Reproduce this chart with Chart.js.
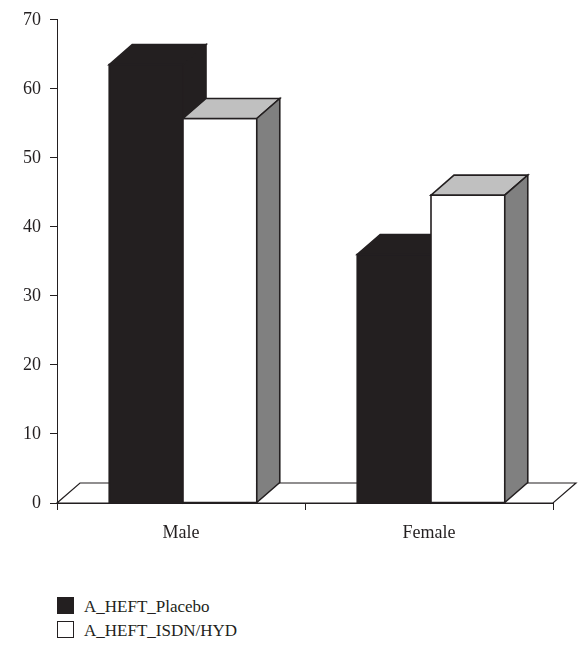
<!DOCTYPE html>
<html>
<head>
<meta charset="utf-8">
<script src="https://cdn.jsdelivr.net/npm/chart.js@4/dist/chart.umd.min.js"></script>
<style>
  body { margin: 0; background: #fff; }
  #wrap { position: relative; width: 579px; height: 646px; }
  #legend { position: absolute; left: 57px; top: 597px; font-family: "Liberation Serif", "DejaVu Serif", serif; font-size: 17px; color: #231f20; }
  #legend div { height: 24px; line-height: 20px; white-space: nowrap; }
  #legend span.box { display: inline-block; width: 17px; height: 17px; box-sizing: border-box; border: 1px solid #231f20; vertical-align: -2px; margin-right: 10px; }
</style>
</head>
<body>
<div id="wrap">
  <canvas id="chart" width="579" height="560"></canvas>
  <div id="legend"></div>
</div>
<script>
const categories = ["Male", "Female"];
const placebo = [63.5, 36.0];
const isdnHyd = [55.7, 44.6];
const seriesNames = ["A_HEFT_Placebo", "A_HEFT_ISDN/HYD"];
const yMax = 70;
const yStep = 10;

// colours for front / top / side of each series
const faces = [
  { front: "#231f20", top: "#231f20", side: "#231f20" },
  { front: "#ffffff", top: "#c0c0c0", side: "#808080" }
];
const depthX = 23, depthY = -20;
const shiftX = 2; // bars sit a little right of the category centre

function poly(ctx, pts, fill) {
  ctx.beginPath();
  ctx.moveTo(pts[0][0], pts[0][1]);
  for (let i = 1; i < pts.length; i++) ctx.lineTo(pts[i][0], pts[i][1]);
  ctx.closePath();
  ctx.fillStyle = fill;
  ctx.fill();
  ctx.stroke();
}

const bars3d = {
  id: "bars3d",
  beforeDatasetsDraw(chart) {
    const ctx = chart.ctx;
    const area = chart.chartArea;
    const base = chart.scales.y.getPixelForValue(0);
    ctx.save();
    ctx.strokeStyle = "#231f20";
    ctx.lineWidth = 1.2;
    ctx.lineJoin = "miter";
    // floor
    poly(ctx, [[area.left, base], [area.right, base], [area.right + depthX, base + depthY], [area.left + depthX, base + depthY]], "#ffffff");
    ctx.lineWidth = 1.6;
    for (let i = 0; i < categories.length; i++) {
      chart.data.datasets.forEach(function (ds, d) {
        const el = chart.getDatasetMeta(d).data[i];
        const l = el.x - el.width / 2 + shiftX, r = el.x + el.width / 2 + shiftX;
        const t = el.y, b = el.base;
        const f = faces[d];
        poly(ctx, [[l, b], [r, b], [r, t], [l, t]], f.front);
        poly(ctx, [[l, t], [r, t], [r + depthX, t + depthY], [l + depthX, t + depthY]], f.top);
        poly(ctx, [[r, b], [r + depthX, b + depthY], [r + depthX, t + depthY], [r, t]], f.side);
      });
    }
    ctx.restore();
    return false;
  }
};

const font = { family: "'Liberation Serif', 'DejaVu Serif', serif", size: 18 };

new Chart(document.getElementById("chart").getContext("2d"), {
  type: "bar",
  data: {
    labels: categories,
    datasets: [
      { label: seriesNames[0], data: placebo, backgroundColor: faces[0].front },
      { label: seriesNames[1], data: isdnHyd, backgroundColor: faces[1].front }
    ]
  },
  options: {
    responsive: false,
    animation: false,
    events: [],
    layout: { padding: { top: 17, right: 26, left: 0, bottom: 0 } },
    datasets: { bar: { categoryPercentage: 0.595, barPercentage: 1.0 } },
    plugins: { legend: { display: false }, tooltip: { enabled: false } },
    scales: {
      x: {
        grid: { offset: true, drawOnChartArea: false, tickLength: 7, color: "#231f20" },
        border: { color: "#231f20", width: 1 },
        ticks: { font: font, color: "#231f20", padding: 12 },
        afterFit(scale) { scale.height = 57; }
      },
      y: {
        min: 0,
        max: yMax,
        grid: { drawOnChartArea: false, tickLength: 7, color: "#231f20" },
        border: { color: "#231f20", width: 1 },
        ticks: { stepSize: yStep, font: font, color: "#231f20", padding: 9 },
        afterFit(scale) { scale.width = 57; }
      }
    }
  },
  plugins: [bars3d]
});

const legend = document.getElementById("legend");
seriesNames.forEach(function (name, d) {
  const row = document.createElement("div");
  const box = document.createElement("span");
  box.className = "box";
  box.style.background = faces[d].front;
  row.appendChild(box);
  row.appendChild(document.createTextNode(name));
  legend.appendChild(row);
});
</script>
</body>
</html>
